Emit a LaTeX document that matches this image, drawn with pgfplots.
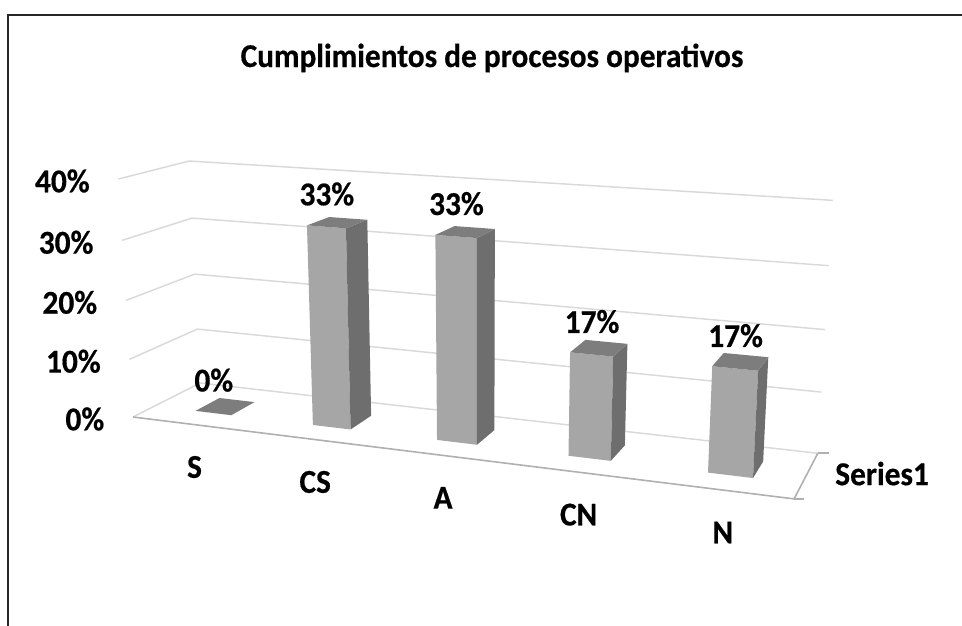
\documentclass[border=0pt]{standalone}
\usepackage{pgfplots}
\pgfplotsset{compat=1.18}
\usepackage{pgfplotstable}
\usepackage{fontspec}
\setmainfont{Carlito}
\newfontfamily\lblff{Carlito}[UprightFont=*-Bold, FakeStretch=0.94, FakeBold=0.5]

\definecolor{barfront}{HTML}{A6A6A6}
\definecolor{barside}{HTML}{6E6E6E}
\definecolor{bartop}{HTML}{7D7D7D}
\definecolor{gridc}{HTML}{D9D9D9}
\definecolor{floorc}{HTML}{B0B0B0}
\definecolor{framec}{HTML}{262626}

\pgfplotstableread{
idx label value
0 S 0
1 CS 33.33
2 A 33.33
3 CN 16.67
4 N 16.67
}\datatable

% perspective projection (category u, depth d, value v in tens of percent) -> pixel coords
\newcommand\proj[3]{%
  \pgfmathsetmacro\hw{1-0.02758*(#1)+0.07537*(#2)-0.010012*(#3)}%
  \pgfmathsetmacro\px{(133+110.32*(#1)+82.08*(#2)-4.826*(#3))/\hw}%
  \pgfmathsetmacro\py{(417+2.620*(#1)-5.125*(#2)-61.29*(#3))/\hw}%
}
\newcommand\projto[4]{\proj{#1}{#2}{#3}\edef#4{(\px,\py)}}
\newcommand\lblfont{\lblff\fontsize{25}{30}\selectfont}

\begin{document}
\begin{tikzpicture}
\path[use as bounding box] (0,0) rectangle (721.5pt,468.75pt);
\begin{axis}[at={(0,0)}, anchor=south west, scale only axis,
  width=721.5pt, height=468.75pt,
  xmin=0, xmax=962, ymin=0, ymax=625, y dir=reverse,
  hide axis, clip=false, no markers]

% frame
\draw[framec, line width=1.1pt] (axis cs:8,640) -- (axis cs:8,15) -- (axis cs:975,15);

% title
\node[anchor=base, inner sep=0pt, font=\lblfont] at (axis cs:492,67) {Cumplimientos de procesos operativos};

% gridlines (side wall and back wall) and value tick labels
\pgfplotsinvokeforeach{0,1,2,3,4}{
  \projto{0}{0}{#1}\PA \projto{0}{1}{#1}\PB \projto{5}{1}{#1}\PC
  \edef\temp{\noexpand\addplot[gridc, line width=1.1pt] coordinates {\PA \PB \PC};}\temp
  \proj{0}{0}{#1}%
  \pgfmathsetmacro\lx{\px-28.5}\pgfmathsetmacro\ly{\py+13.3}%
  \pgfmathtruncatemacro\tk{#1*10}%
  \edef\temp{\noexpand\node[anchor=base east, inner sep=0pt, font=\noexpand\lblfont] at (axis cs:\lx,\ly) {\tk\noexpand\%};}\temp
}

% floor front and right edges
\projto{0}{0}{0}\PA \projto{5}{0}{0}\PB \projto{5}{1}{0}\PC
\edef\temp{\noexpand\addplot[floorc, line width=1.2pt] coordinates {\PA \PB \PC};}\temp
% series axis ticks
\proj{5}{0}{0}\pgfmathsetmacro\lx{\px+10}
\edef\temp{\noexpand\addplot[floorc, line width=1.2pt] coordinates {(\px,\py) (\lx,\py)};}\temp
\proj{5}{1}{0}\pgfmathsetmacro\lx{\px+11}
\edef\temp{\noexpand\addplot[floorc, line width=1.2pt] coordinates {(\px,\py) (\lx,\py)};}\temp
\proj{5}{0.5}{0}\pgfmathsetmacro\lx{\px+28.6}\pgfmathsetmacro\ly{\py+10}
\edef\temp{\noexpand\node[anchor=base west, inner sep=0pt, font=\noexpand\lblfont] at (axis cs:\lx,\ly) {Series1};}\temp

% bars
\pgfplotsinvokeforeach{0,1,2,3,4}{
  \pgfplotstablegetelem{#1}{value}\of\datatable \edef\val{\pgfplotsretval}%
  \pgfplotstablegetelem{#1}{label}\of\datatable \edef\cat{\pgfplotsretval}%
  \pgfmathsetmacro\ua{#1+0.36}\pgfmathsetmacro\ub{#1+0.67}%
  \pgfmathsetmacro\vv{\val/10}%
  \projto{\ua}{0.31}{0}\PA
  \projto{\ub}{0.31}{0}\PB
  \projto{\ub}{0.31}{\vv}\PC
  \projto{\ua}{0.31}{\vv}\PD
  \projto{\ub}{0.68}{0}\PE
  \projto{\ub}{0.68}{\vv}\PF
  \projto{\ua}{0.68}{\vv}\PG
  \edef\temp{%
    \noexpand\addplot[fill=barfront, draw=none] coordinates {\PA \PB \PC \PD \PA};
    \noexpand\addplot[fill=barside, draw=none] coordinates {\PB \PE \PF \PC \PB};
    \noexpand\addplot[fill=bartop, draw=none] coordinates {\PD \PC \PF \PG \PD};
  }\temp
  % data label
  \proj{#1+0.515}{0.31}{\vv}%
  \pgfmathsetmacro\lx{\px+0.5}\pgfmathsetmacro\ly{\py-21.5}%
  \pgfmathtruncatemacro\lbl{round(\val)}%
  \edef\temp{\noexpand\node[anchor=base, inner sep=0pt, font=\noexpand\lblfont] at (axis cs:\lx,\ly) {\lbl\noexpand\%};}\temp
  % category label
  \proj{#1+0.515}{0}{0}%
  \pgfmathsetmacro\lx{\px+2}\pgfmathsetmacro\ly{\py+53.5}%
  \edef\temp{\noexpand\node[anchor=base, inner sep=0pt, font=\noexpand\lblfont] at (axis cs:\lx,\ly) {\cat};}\temp
}
\end{axis}
\end{tikzpicture}
\end{document}
